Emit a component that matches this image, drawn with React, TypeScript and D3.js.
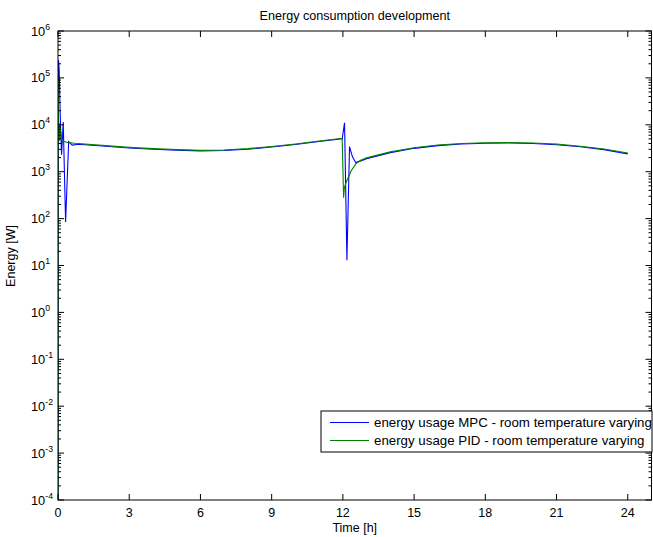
import React from 'react';
import * as d3 from 'd3';

const titleText = 'Energy consumption development';
const xLabel = 'Time [h]';
const yLabel = 'Energy [W]';
const xTicks = [0, 3, 6, 9, 12, 15, 18, 21, 24];
const yExponents = [-4, -3, -2, -1, 0, 1, 2, 3, 4, 5, 6];
const legendLabels = [
  'energy usage MPC - room temperature varying',
  'energy usage PID - room temperature varying',
];
const seriesColors = ['#0000ff', '#008000'];

const mpcTime = [0, 0.005, 0.02, 0.05, 0.1, 0.15, 0.22, 0.32, 0.45, 0.6, 0.8, 1, 2, 3, 4, 5, 6, 7, 8, 9, 10, 11, 11.97, 12.07, 12.17, 12.28, 12.4, 12.54, 12.75, 13, 14, 15, 16, 17, 18, 19, 20, 21, 22, 23, 24];
const mpcEnergy = [1e-6, 1e5, 2.4e5, 1.5e5, 1.2e4, 2.3e3, 1.15e4, 85, 4.4e3, 3.7e3, 3.8e3, 3.8e3, 3.5e3, 3.2e3, 3.0e3, 2.88e3, 2.78e3, 2.83e3, 3.0e3, 3.35e3, 3.8e3, 4.4e3, 5.05e3, 1.1e4, 13, 3.4e3, 2.1e3, 1.56e3, 1.7e3, 1.9e3, 2.55e3, 3.15e3, 3.6e3, 3.9e3, 4.05e3, 4.1e3, 4.0e3, 3.75e3, 3.4e3, 2.95e3, 2.4e3];

const pidTime = [0, 0.005, 0.02, 0.03, 0.04, 0.05, 0.06, 0.07, 0.08, 0.09, 0.1, 0.11, 0.12, 0.14, 0.2, 0.4, 0.7, 1, 2, 3, 4, 5, 6, 7, 8, 9, 10, 11, 11.97, 12.03, 12.06, 12.12, 12.2, 12.35, 12.56, 12.75, 13, 14, 15, 16, 17, 18, 19, 20, 21, 22, 23, 24];
const pidEnergy = [1e-6, 1e5, 1.5e4, 5e3, 1.1e4, 4.5e3, 1.05e4, 4.8e3, 9.5e3, 5e3, 8.5e3, 5.2e3, 7e3, 5e3, 4.5e3, 4.2e3, 4.05e3, 3.95e3, 3.6e3, 3.3e3, 3.1e3, 2.95e3, 2.85e3, 2.9e3, 3.1e3, 3.45e3, 3.9e3, 4.5e3, 5.15e3, 280, 450, 560, 700, 1.05e3, 1.5e3, 1.75e3, 1.97e3, 2.65e3, 3.25e3, 3.7e3, 4.0e3, 4.15e3, 4.2e3, 4.1e3, 3.9e3, 3.5e3, 3.05e3, 2.5e3];

const W = 653;
const H = 537;
const L = 58;
const R = 651.5;
const T = 31;
const B = 500;
const FONT = '"Liberation Sans", Arial, Helvetica, sans-serif';

export default function App() {
  const x = d3.scaleLinear().domain([0, 25]).range([L, R]);
  const y = d3.scaleLog().domain([1e-4, 1e6]).range([B, T]);
  const line = d3
    .line<[number, number]>()
    .x((d) => x(d[0]))
    .y((d) => y(Math.max(d[1], 1e-8)));

  const mpc: [number, number][] = mpcTime.map((t, i) => [t, mpcEnergy[i]]);
  const pid: [number, number][] = pidTime.map((t, i) => [t, pidEnergy[i]]);

  const minorTicks: number[] = [];
  for (let e = -4; e < 6; e++) {
    for (let m = 2; m <= 9; m++) minorTicks.push(m * Math.pow(10, e));
  }

  const legX = 321;
  const legY = 411;
  const legW = 652 - 321;
  const legH = 41;

  return (
    <svg
      width={W}
      height={H}
      style={{ position: 'absolute', left: 0, top: 0, background: '#fff' }}
      fontFamily={FONT}
    >
      <rect x={0} y={0} width={W} height={H} fill="#fff" />
      <defs>
        <clipPath id="plotClip">
          <rect x={L} y={T} width={R - L} height={B - T} />
        </clipPath>
      </defs>
      <text x={(L + R) / 2} y={20} textAnchor="middle" fontSize={12.6} fill="#000">
        {titleText}
      </text>

      <g clipPath="url(#plotClip)">
        <path d={line(mpc) || ''} fill="none" stroke={seriesColors[0]} strokeWidth={1.1} />
        <path d={line(pid) || ''} fill="none" stroke={seriesColors[1]} strokeWidth={1.1} />
      </g>

      {/* frame */}
      <rect x={L} y={T} width={R - L} height={B - T} fill="none" stroke="#000" strokeWidth={1} />

      {/* x ticks */}
      {xTicks.map((t) => (
        <g key={'xt' + t}>
          <line x1={x(t)} x2={x(t)} y1={B} y2={B - 6} stroke="#000" />
          <line x1={x(t)} x2={x(t)} y1={T} y2={T + 6} stroke="#000" />
          <text x={x(t)} y={517} textAnchor="middle" fontSize={12.5} fill="#000">
            {t}
          </text>
        </g>
      ))}

      {/* y major ticks */}
      {yExponents.map((e) => {
        const yy = y(Math.pow(10, e));
        return (
          <g key={'ye' + e}>
            <line x1={L} x2={L + 6} y1={yy} y2={yy} stroke="#000" />
            <line x1={R} x2={R - 6} y1={yy} y2={yy} stroke="#000" />
            <text x={31} y={yy + 4.5} fontSize={12.8} fill="#000">
              10
              <tspan dy={-6} fontSize={8.7}>
                {e < 0 ? '-' + Math.abs(e) : String(e)}
              </tspan>
            </text>
          </g>
        );
      })}
      {minorTicks.map((v, i) => (
        <g key={'ym' + i}>
          <line x1={L} x2={L + 3} y1={y(v)} y2={y(v)} stroke="#000" />
          <line x1={R} x2={R - 3} y1={y(v)} y2={y(v)} stroke="#000" />
        </g>
      ))}

      <text x={(L + R) / 2} y={532} textAnchor="middle" fontSize={12.5} fill="#000">
        {xLabel}
      </text>
      <text
        transform={`translate(15,256) rotate(-90)`}
        textAnchor="middle"
        fontSize={12.5}
        fill="#000"
      >
        {yLabel}
      </text>

      {/* legend */}
      <rect x={legX} y={legY} width={legW} height={legH} fill="#fff" stroke="#000" strokeWidth={1} />
      {legendLabels.map((lab, i) => {
        const ly = 422.5 + i * 18;
        return (
          <g key={'lg' + i}>
            <line x1={330} x2={369} y1={ly} y2={ly} stroke={seriesColors[i]} strokeWidth={1.1} />
            <text x={374} y={ly + 4.5} fontSize={13.3} fill="#000">
              {lab}
            </text>
          </g>
        );
      })}
    </svg>
  );
}
